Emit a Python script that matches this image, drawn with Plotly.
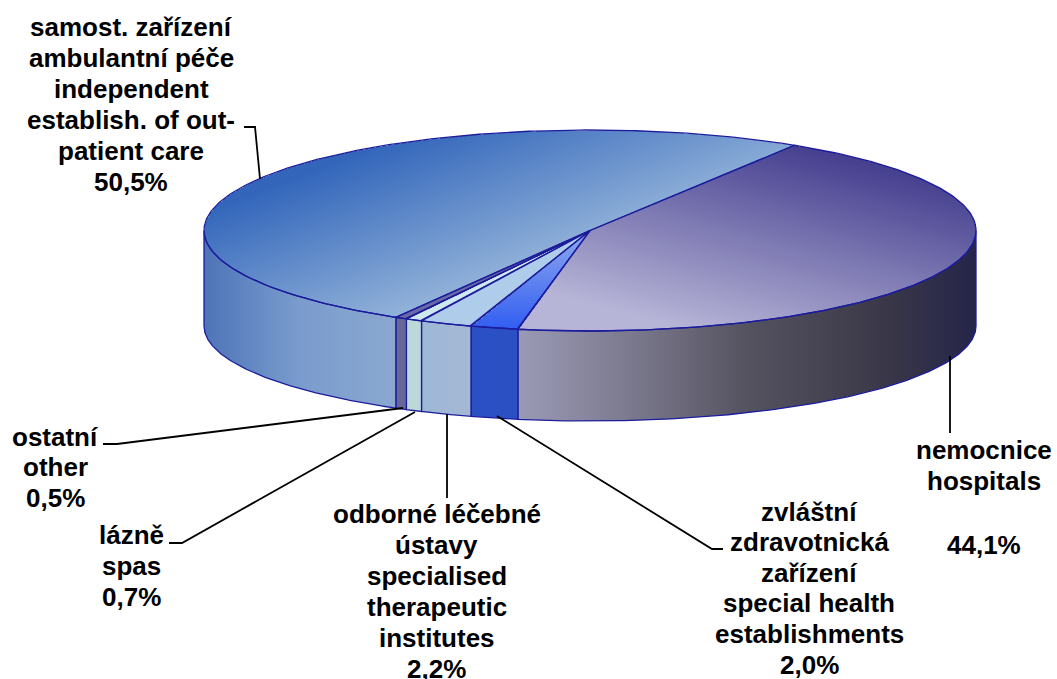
import numpy as np
import plotly.graph_objects as go

# ---------- data (clockwise from the hospital slice) ----------
categories = ["nemocnice", "zvlastni", "odborne", "lazne", "ostatni", "samost"]
values = [44.1, 2.0, 2.2, 0.7, 0.5, 50.5]

label_lines = {
    "samost": ["samost. zařízení", "ambulantní péče", "independent", "establish. of out-", "patient care", "50,5%"],
    "ostatni": ["ostatní", "other", "0,5%"],
    "lazne": ["lázně", "spas", "0,7%"],
    "odborne": ["odborné léčebné", "ústavy", "specialised", "therapeutic", "institutes", "2,2%"],
    "zvlastni": ["zvláštní", "zdravotnická", "zařízení", "special health", "establishments", "2,0%"],
    "nemocnice": ["nemocnice", "hospitals", "", "44,1%"],
}

# ---------- layout constants ----------
CX, CY, RX, RY = 590.0, 230.5, 386.0, 100.5
BOTTOM_CY, BOTTOM_RY = 326.0, 95.0
START = 58.0
EDGE = "#1c1c9c"
label_pos = {  # centre x, y of each line
    "samost": (131, [27, 58, 89, 120, 151, 182]),
    "ostatni": (55, [437, 467, 498]),
    "lazne": (131, [535, 566, 597]),
    "odborne": (436.5, [514, 545, 576, 607, 638, 669]),
    "zvlastni": (809, [512, 542, 573, 603, 634, 665]),
    "nemocnice": (984, [450, 481, 512, 545]),
}
leaders = [
    [(244, 127), (255, 127), (260, 179)],
    [(103, 444), (117, 444), (403, 408)],
    [(169, 543), (182, 543), (415, 412)],
    [(447, 414), (447, 498)],
    [(497, 416), (712, 549), (723, 549)],
    [(950, 356), (950, 433)],
]
top_style = {
    "nemocnice": {"grad": ("#453f8f", "#b7b5d7"), "ref": (900, 170), "dir": (-0.0012, 0.00466)},
    "samost": {"grad": ("#3366bb", "#8fb0d8"), "ref": (260, 190), "dir": (0.00218, 0.00579)},
    "zvlastni": {"grad": ("#8ea8ee", "#2f5cf2"), "ref": (590, 231), "dir": (0.0, 0.01)},
    "odborne": {"grad": ("#b0cceb", "#b0cceb"), "ref": (590, 231), "dir": (0.0, 0.01)},
    "lazne": {"grad": ("#cfe8ef", "#cfe8ef"), "ref": (590, 231), "dir": (0.0, 0.01)},
    "ostatni": {"grad": ("#6a6aa8", "#6a6aa8"), "ref": (590, 231), "dir": (0.0, 0.01)},
}
side_colors = {
    "nemocnice": [[0, "#9b9ab6"], [0.22, "#7f7d92"], [0.5, "#555360"], [0.8, "#3a3848"], [1, "#25254a"]],
    "zvlastni": [[0, "#2b50c4"], [1, "#2b50c4"]],
    "odborne": [[0, "#9db8d5"], [1, "#a5b8d5"]],
    "lazne": [[0, "#bcd8d8"], [1, "#bcd8d8"]],
    "ostatni": [[0, "#666699"], [1, "#666699"]],
    "samost": [[0, "#4d74b8"], [0.5, "#7a9ccd"], [1, "#8aa8d0"]],
}

# ---------- geometry derived from the values ----------
sweep = np.array(values) / sum(values) * 360.0
ends = START - np.cumsum(sweep)
starts = ends + sweep


def rim(a0, a1, n=160, cy=CY, ry=RY):
    t = np.radians(np.linspace(a0, a1, n))
    return CX + RX * np.cos(t), cy - ry * np.sin(t)


fig = go.Figure()
gx = np.arange(CX - RX - 1, CX + RX + 2, 1.0)
gy = np.arange(CY - RY - 1, CY + RY + 2, 1.0)
GX, GY = np.meshgrid(gx, gy)
inside = ((GX - CX) / RX) ** 2 + ((GY - CY) / RY) ** 2 <= 1.0
ANG = np.degrees(np.arctan2(-(GY - CY) / RY, (GX - CX) / RX))

# sides
for name, a0, a1 in zip(categories, starts, ends):
    for shift in (0, 360):
        hi, lo = min(a0 + shift, 0.0), max(a1 + shift, -180.0)
        if hi - lo <= 0:
            continue
        xt, yt = rim(hi, lo)
        xb, yb = rim(lo, hi, cy=BOTTOM_CY, ry=BOTTOM_RY)
        fig.add_trace(go.Scatter(
            x=np.r_[xt, xb, xt[0]], y=np.r_[yt, yb, yt[0]], mode="lines", fill="toself",
            line=dict(color=EDGE, width=1.3), hoverinfo="skip",
            fillgradient=dict(type="horizontal", colorscale=side_colors[name]),
        ))

# tops
for name, a0, a1 in zip(categories, starts, ends):
    xa, ya = rim(a0, a1, n=240)
    s = top_style[name]
    t = s["dir"][0] * (GX - s["ref"][0]) + s["dir"][1] * (GY - s["ref"][1])
    rel = (ANG - a1) % 360
    mask = inside & (rel <= (a0 - a1))
    z = np.where(mask, np.clip(t, 0, 1), np.nan)
    fig.add_trace(go.Heatmap(
        x=gx, y=gy, z=z, zmin=0, zmax=1, showscale=False, hoverinfo="skip",
        colorscale=[[0, s["grad"][0]], [1, s["grad"][1]]],
    ))
    fig.add_trace(go.Scatter(x=np.r_[CX, xa, CX], y=np.r_[CY, ya, CY], mode="lines",
                             line=dict(color=EDGE, width=1.3), hoverinfo="skip"))

# leader lines
for pts in leaders:
    fig.add_trace(go.Scatter(x=[p[0] for p in pts], y=[p[1] for p in pts], mode="lines",
                             line=dict(color="black", width=1.8), hoverinfo="skip"))

# labels
for key, lines in label_lines.items():
    lx, ys = label_pos[key]
    for txt, ly in zip(lines, ys):
        if txt:
            fig.add_annotation(x=lx, y=ly, text=f"<b>{txt}</b>", showarrow=False,
                               xanchor="center", yanchor="middle",
                               font=dict(family="Liberation Sans", size=26, color="black"))

fig.update_layout(
    width=1057, height=679, margin=dict(l=0, r=0, t=0, b=0), showlegend=False,
    paper_bgcolor="white", plot_bgcolor="white",
    xaxis=dict(range=[0, 1057], visible=False, fixedrange=True),
    yaxis=dict(range=[679, 0], visible=False, fixedrange=True),
)
fig.write_html("out.html", config={"displayModeBar": False},
               post_script="document.body.style.margin='0';document.body.style.overflow='hidden';")
